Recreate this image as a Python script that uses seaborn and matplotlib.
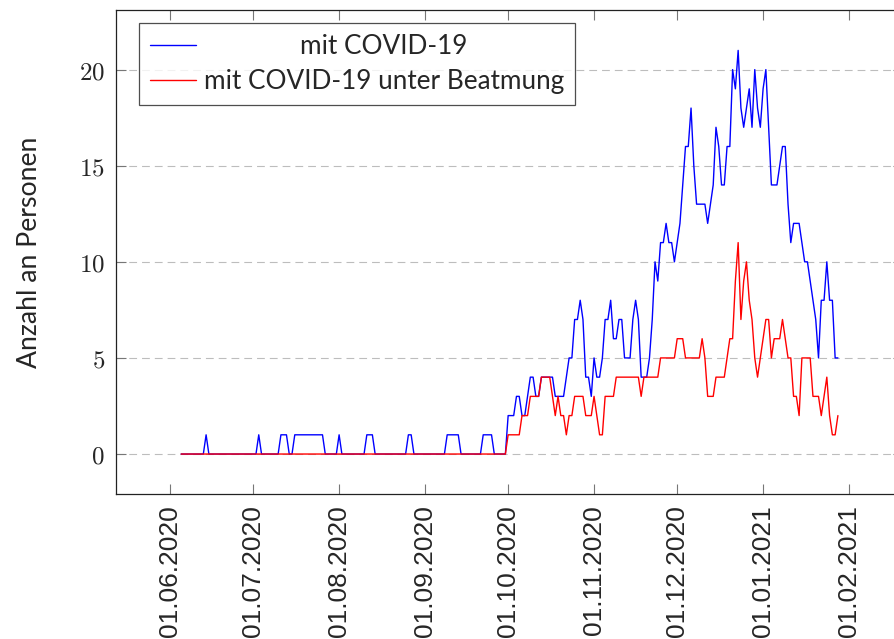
import numpy as np
import pandas as pd
import seaborn as sns
import matplotlib
matplotlib.use('Agg')
import matplotlib.pyplot as plt
import matplotlib.dates as mdates
from matplotlib.ticker import FixedLocator, FixedFormatter


# Tageswerte ab 05.06.2020 bis 28.01.2021
start_date = '2020-06-05'

# mit COVID-19
covid_jun = [0, 0, 0, 0, 0, 0, 0, 0, 0, 1, 0, 0, 0, 0, 0, 0, 0, 0, 0, 0, 0, 0, 0, 0, 0, 0]
covid_jul = [0, 0, 1, 0, 0, 0, 0, 0, 0, 0, 1, 1, 1, 0, 0, 1, 1, 1, 1, 1, 1, 1, 1, 1, 1, 1,
             0, 0, 0, 0, 0]
covid_aug = [1, 0, 0, 0, 0, 0, 0, 0, 0, 0, 1, 1, 1, 0, 0, 0, 0, 0, 0, 0, 0, 0, 0, 0, 0, 1,
             1, 0, 0, 0, 0]
covid_sep = [0, 0, 0, 0, 0, 0, 0, 0, 1, 1, 1, 1, 1, 0, 0, 0, 0, 0, 0, 0, 0, 1, 1, 1, 1, 0,
             0, 0, 0, 0]
covid_okt = [2, 2, 2, 3, 3, 2, 2, 3, 4, 4, 3, 3, 4, 4, 4, 4, 4, 3, 3, 3, 3, 4, 5, 5, 7, 7,
             8, 7, 4, 4, 3]
covid_nov = [5, 4, 4, 5, 7, 7, 8, 6, 6, 7, 7, 5, 5, 5, 7, 8, 7, 4, 4, 4, 5, 7, 10, 9, 11,
             11, 12, 11, 11, 10]
covid_dez = [11, 12, 14, 16, 16, 18, 15, 13, 13, 13, 13, 12, 13, 14, 17, 16, 14, 14, 16, 16,
             20, 19, 21, 18, 17, 18, 19, 17, 20, 18, 17]
covid_jan = [19, 20, 17, 14, 14, 14, 15, 16, 16, 13, 11, 12, 12, 12, 11, 10, 10, 9, 8, 7, 5,
             8, 8, 10, 8, 8, 5, 5]

# mit COVID-19 unter Beatmung
beatm_jun = [0] * 26
beatm_jul = [0] * 31
beatm_aug = [0] * 31
beatm_sep = [0] * 30
beatm_okt = [1, 1, 1, 1, 1, 2, 2, 2, 3, 3, 3, 3, 4, 4, 4, 4, 3, 2, 3, 2, 2, 1, 2, 2, 3, 3,
             3, 3, 2, 2, 2]
beatm_nov = [3, 2, 1, 1, 3, 3, 3, 3, 4, 4, 4, 4, 4, 4, 4, 4, 4, 3, 4, 4, 4, 4, 4, 4, 5, 5,
             5, 5, 5, 5]
beatm_dez = [6, 6, 6, 5, 5, 5, 5, 5, 5, 6, 5, 3, 3, 3, 4, 4, 4, 4, 5, 6, 6, 9, 11, 7, 9, 10,
             8, 7, 5, 4, 5]
beatm_jan = [6, 7, 7, 5, 6, 6, 6, 7, 6, 5, 5, 3, 3, 2, 5, 5, 5, 5, 3, 3, 3, 2, 3, 4, 2, 1,
             1, 2]

tick_dates = ['2020-06-01', '2020-07-01', '2020-08-01', '2020-09-01', '2020-10-01',
              '2020-11-01', '2020-12-01', '2021-01-01', '2021-02-01']
y_ticks = [0, 5, 10, 15, 20]
labels = ['mit COVID-19', 'mit COVID-19 unter Beatmung']


def main():
    covid = covid_jun + covid_jul + covid_aug + covid_sep + covid_okt + covid_nov + covid_dez + covid_jan
    beatm = beatm_jun + beatm_jul + beatm_aug + beatm_sep + beatm_okt + beatm_nov + beatm_dez + beatm_jan
    dates = pd.date_range(start_date, periods=len(covid), freq='D')
    df = pd.DataFrame({'Datum': dates, 'covid': covid, 'beatm': beatm})

    sns.set_theme(style='white')
    plt.rcParams['mathtext.fontset'] = 'cm'
    plt.rcParams['font.family'] = ['Lato', 'DejaVu Sans']

    fig = plt.figure(figsize=(8.94, 6.39), dpi=100)
    ax = fig.add_axes([0.1298, 0.2269, 0.8803, 0.7574])

    sns.lineplot(x='Datum', y='covid', data=df, color='blue', lw=1.0, label=labels[0], ax=ax)
    sns.lineplot(x='Datum', y='beatm', data=df, color='red', lw=1.0, label=labels[1], ax=ax)

    x0 = pd.Timestamp('2020-06-01')
    ax.set_xlim(x0 - pd.Timedelta(days=19.5), x0 + pd.Timedelta(days=264.5))
    ax.set_ylim(-2.08, 23.1)

    ax.xaxis.set_major_locator(FixedLocator(mdates.date2num(pd.to_datetime(tick_dates))))
    ax.xaxis.set_major_formatter(mdates.DateFormatter('%d.%m.%Y'))
    ax.yaxis.set_major_locator(FixedLocator(y_ticks))
    ax.yaxis.set_major_formatter(FixedFormatter([f'${v}$' for v in y_ticks]))

    ax.tick_params(axis='x', direction='in', length=7.5, width=0.8, color='#777777',
                   top=True, bottom=True, labelsize=19, pad=8, labelrotation=90)
    ax.tick_params(axis='y', direction='in', length=7.5, width=0.8, color='#777777',
                   left=True, right=True, labelsize=18, pad=8)
    for t in ax.get_xticklabels():
        t.set_fontfamily(['Liberation Sans', 'DejaVu Sans'])

    ax.yaxis.grid(True, color='#bdbdbd', lw=0.8, linestyle=(0, (7, 4.5)))
    ax.xaxis.grid(False)
    for s in ax.spines.values():
        s.set_color('#222222')
        s.set_linewidth(0.9)

    ax.set_xlabel('')
    ax.set_ylabel('Anzahl an Personen', fontsize=19.2)
    ax.yaxis.set_label_coords(-0.094, 0.5)

    leg = ax.legend(loc='upper left', bbox_to_anchor=(0.0292, 0.973), borderaxespad=0,
                    fontsize=18.8, frameon=True, fancybox=False, edgecolor='#222222',
                    handlelength=1.75, handletextpad=0.3, borderpad=0.43, labelspacing=0.36)
    leg.get_frame().set_linewidth(0.9)

    # Legendentexte zentrieren wie bei pgfplots
    fig.canvas.draw()
    texts = leg.get_texts()
    widths = [t.get_window_extent().width for t in texts]
    for t, w in zip(texts, widths):
        t.set_position(((max(widths) - w) / 2, 0))

    plt.savefig('out.png', dpi=100)
    plt.close()


if __name__ == '__main__':
    main()
